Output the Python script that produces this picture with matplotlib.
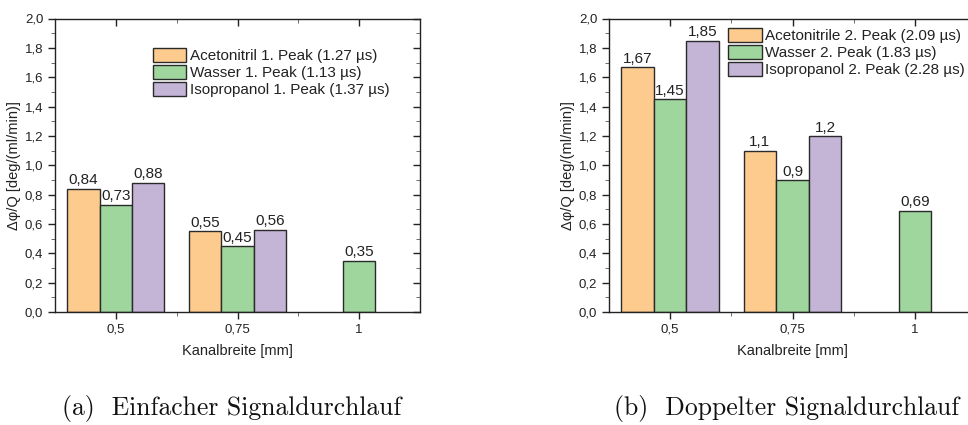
import numpy as np
import matplotlib
matplotlib.use("Agg")
import matplotlib.pyplot as plt
from matplotlib.ticker import MultipleLocator, FixedLocator, FuncFormatter

plt.rcParams['font.family'] = ['Liberation Sans', 'DejaVu Sans']

categories = ['0,5', '0,75', '1']

# (a) Einfacher Signaldurchlauf
single_labels = ['Acetonitril 1. Peak (1.27 µs)', 'Wasser 1. Peak (1.13 µs)',
                 'Isopropanol 1. Peak (1.37 µs)']
single_aceto = [0.84, 0.55, np.nan]
single_water = [0.73, 0.45, 0.35]
single_iso = [0.88, 0.56, np.nan]

# (b) Doppelter Signaldurchlauf
double_labels = ['Acetonitrile 2. Peak (2.09 µs)', 'Wasser 2. Peak (1.83 µs)',
                 'Isopropanol 2. Peak (2.28 µs)']
double_aceto = [1.67, 1.1, np.nan]
double_water = [1.45, 0.9, 0.69]
double_iso = [1.85, 1.2, np.nan]

captions = ['(a)  Einfacher Signaldurchlauf', '(b)  Doppelter Signaldurchlauf']

COLORS = ['#FECB8F', '#9ED69E', '#C4B4D6']
EDGE = '#2a2a2a'
TXT = '#222222'

W, H = 968, 425
fig = plt.figure(figsize=(W / 100, H / 100), dpi=100)


def px_axes(x0, x1, ytop, ybot):
    return fig.add_axes([x0 / W, 1 - ybot / H, (x1 - x0) / W, (ybot - ytop) / H])


def comma(v):
    return f"{v:g}".replace('.', ',')


def draw_panel(ax, series, labels, legend_pos):
    x = np.arange(1, len(categories) + 1)
    w = 0.8 / 3
    for i, (vals, lab) in enumerate(zip(series, labels)):
        bars = ax.bar(x + (i - 1) * w, vals, w, color=COLORS[i], edgecolor=EDGE,
                      linewidth=1.0, label=lab, zorder=2)
        ax.bar_label(bars, labels=['' if np.isnan(v) else comma(v) for v in vals],
                     padding=1, fontsize=11, color=TXT)

    ax.set_xlim(0.5, 3.5)
    ax.set_ylim(0, 2.0)
    ax.set_xticks(x)
    ax.set_xticklabels(categories)
    ax.xaxis.set_minor_locator(FixedLocator([1.5, 2.5]))
    ax.yaxis.set_major_locator(MultipleLocator(0.2))
    ax.yaxis.set_minor_locator(MultipleLocator(0.1))
    ax.yaxis.set_major_formatter(FuncFormatter(lambda v, p: f"{v:.1f}".replace('.', ',')))

    ax.tick_params(axis='both', which='major', labelsize=9.5, labelcolor=TXT,
                   color=TXT, width=1.0)
    ax.tick_params(axis='y', which='major', direction='out', length=5, left=True,
                   right=True)
    ax.tick_params(axis='y', which='minor', direction='out', length=3, left=True,
                   right=True, color='#555555')
    ax.tick_params(axis='x', which='major', direction='out', length=5, top=True)
    ax.tick_params(axis='x', which='minor', direction='out', length=3, top=True,
                   color='#555555')
    for s in ax.spines.values():
        s.set_linewidth(1.0)
        s.set_color(TXT)
    # inward ticks on the secondary (top / right) spines
    for t in ax.xaxis.get_major_ticks() + ax.xaxis.get_minor_ticks():
        t.tick2line.set_marker(3)
    for t in ax.yaxis.get_major_ticks() + ax.yaxis.get_minor_ticks():
        t.tick2line.set_marker(0)

    ax.set_xlabel('Kanalbreite [mm]', fontsize=10.5, color=TXT, labelpad=6)
    ax.set_ylabel('Δφ/Q [deg/(ml/min)]', fontsize=10.5, color=TXT, labelpad=3)

    ax.legend(loc='upper left', bbox_to_anchor=legend_pos, frameon=False,
              fontsize=11, borderaxespad=0, borderpad=0, handlelength=2.2,
              handleheight=1.05, handletextpad=0.25, labelspacing=0.12,
              labelcolor=TXT)


ax1 = px_axes(55, 420, 18.5, 312)
draw_panel(ax1, [single_aceto, single_water, single_iso], single_labels, (0.268, 0.90))

ax2 = px_axes(609, 976, 18.5, 312)
draw_panel(ax2, [double_aceto, double_water, double_iso], double_labels, (0.324, 0.968))

fig.text(232 / W, 1 - 409 / H, captions[0], family='cmr10', fontsize=18.5,
         ha='center', va='center', color='#111111')
fig.text(787 / W, 1 - 409 / H, captions[1], family='cmr10', fontsize=18.5,
         ha='center', va='center', color='#111111')

fig.savefig('out.png', dpi=100, facecolor='white')
